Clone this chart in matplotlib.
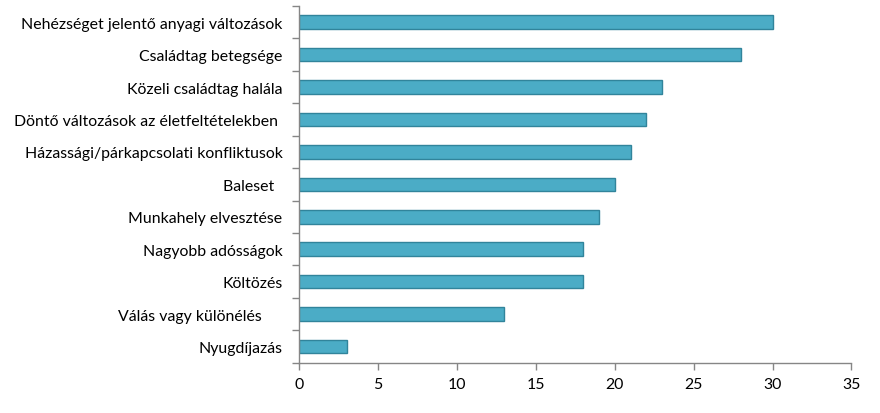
import matplotlib.pyplot as plt

# ---------------- Data ----------------
labels = [
    "Nehézséget jelentő anyagi változások",
    "Családtag betegsége",
    "Közeli családtag halála",
    "Döntő változások az életfeltételekben ",
    "Házassági/párkapcsolati konfliktusok",
    "Baleset  ",
    "Munkahely elvesztése",
    "Nagyobb adósságok",
    "Költözés",
    "Válás vagy különélés     ",
    "Nyugdíjazás",
]
values = [30, 28, 23, 22, 21, 20, 19, 18, 18, 13, 3]
x_ticks = [0, 5, 10, 15, 20, 25, 30, 35]

plt.rcParams['font.family'] = ['Lato', 'DejaVu Sans']
axis_grey = "#868686"

fig = plt.figure(figsize=(8.8, 4.14), dpi=100)
ax = fig.add_axes([0.3401, 0.1215, 0.6275, 0.8615])

# reverse so first label is on top
n = len(labels)
ypos = list(range(n))[::-1]
ax.barh(ypos, values, height=0.42, color="#4BACC6", edgecolor="#31849B", linewidth=1.0)

ax.set_xlim(0, 35)
ax.set_ylim(-0.5, n - 0.5)
ax.set_xticks(x_ticks)
ax.set_xticklabels([str(t) for t in x_ticks])

# category labels between boundary ticks (Excel style)
ax.set_yticks(ypos)
ax.set_yticklabels(labels)
ax.set_yticks([i - 0.5 for i in range(n + 1)], minor=True)
ax.tick_params(axis='y', which='major', length=0, pad=12)
ax.tick_params(axis='y', which='minor', length=5, color=axis_grey, width=1)
ax.tick_params(axis='x', length=5, color=axis_grey, width=1, pad=5)
ax.tick_params(labelsize=11.4, labelcolor="black")

for side in ["top", "right"]:
    ax.spines[side].set_visible(False)
for side in ["left", "bottom"]:
    ax.spines[side].set_color(axis_grey)
    ax.spines[side].set_linewidth(1)

fig.savefig("out.png", dpi=100)
